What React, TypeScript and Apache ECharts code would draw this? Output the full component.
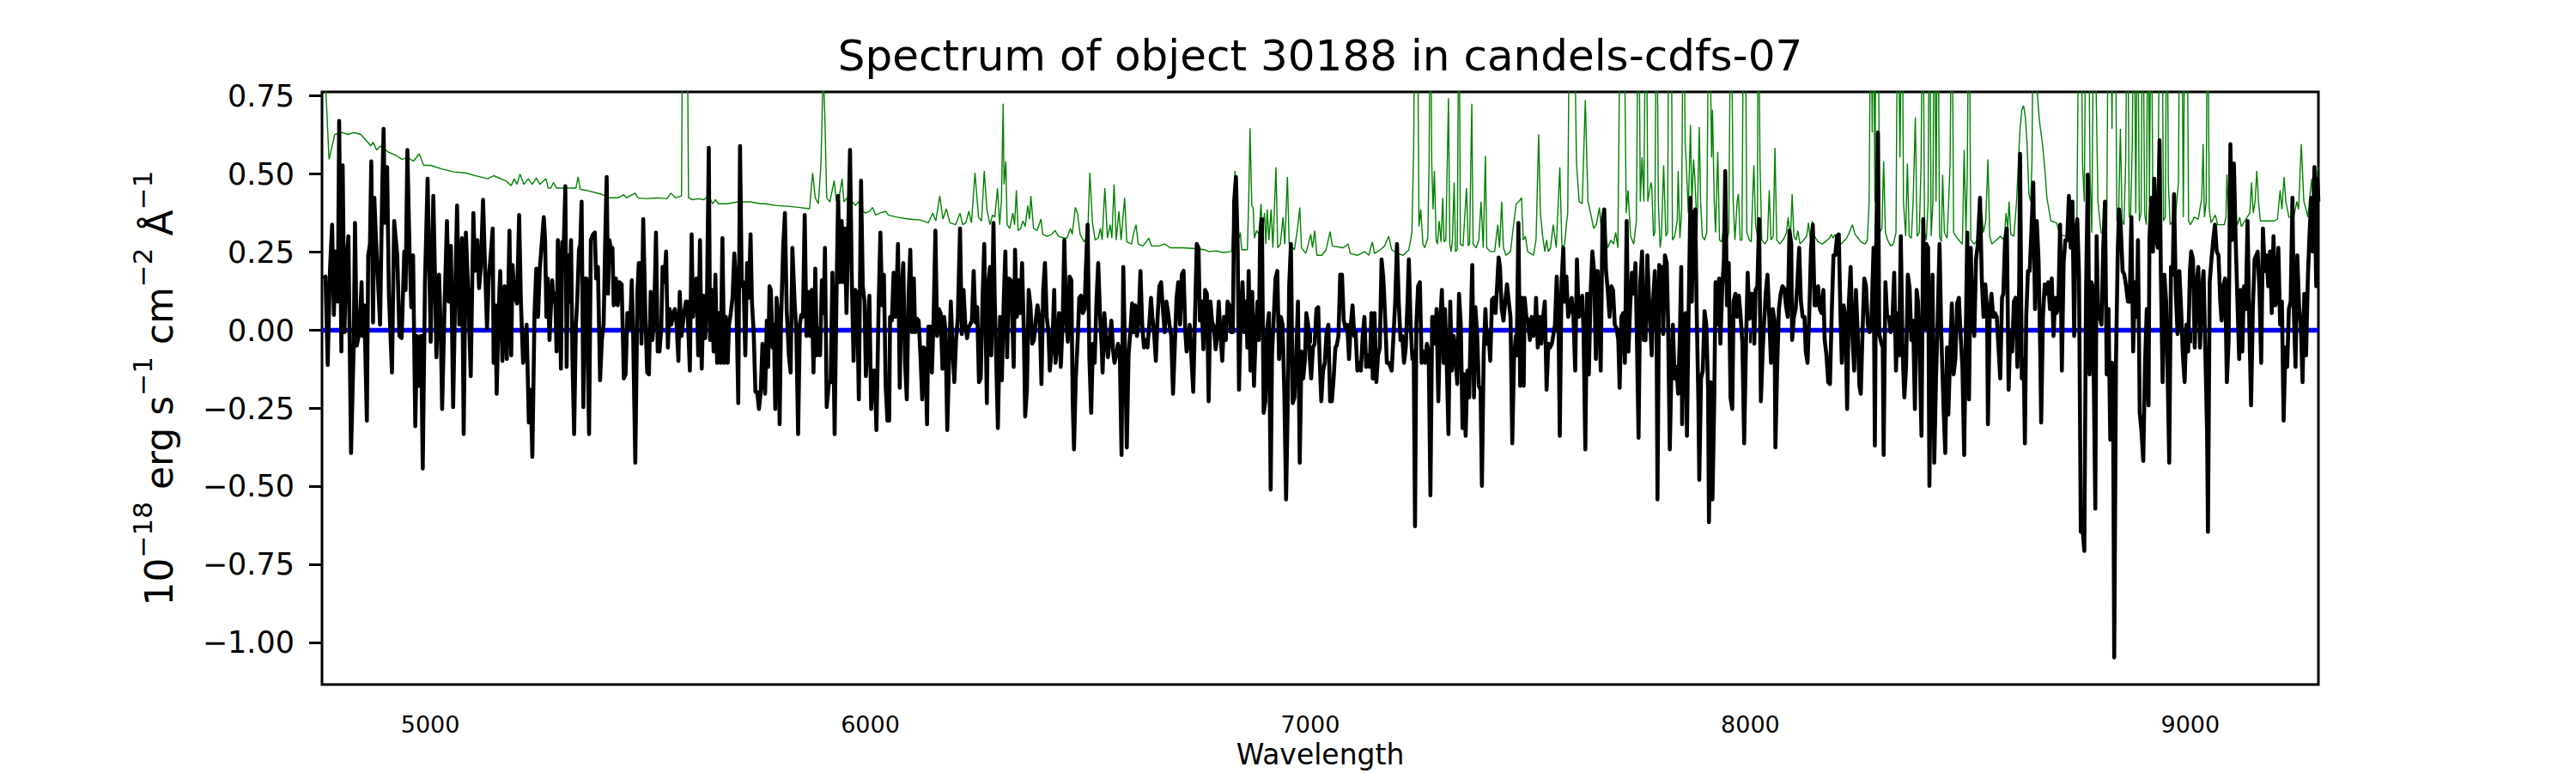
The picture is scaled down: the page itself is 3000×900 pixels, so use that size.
import React, { useEffect, useRef } from "react";
import * as echarts from "echarts";

const TITLE = "Spectrum of object 30188 in candels-cdfs-07";
const X_NAME = "Wavelength";
const Y_NAME = "{b|10}{s|−18}{b| erg s}{s|−1}{b| cm}{s|−2}{b| Å}{s|−1}";
const X_TICKS = [5000, 6000, 7000, 8000, 9000];
const Y_TICKS = [-1.0, -0.75, -0.5, -0.25, 0, 0.25, 0.5, 0.75];
const X_MIN = 4754;
const X_MAX = 9291;
const Y_MIN = -1.134;
const Y_MAX = 0.763;
const ZERO_LEVEL = 0;

// observed flux (black), [wavelength, flux]
const fluxA = [[4757,0.166],[4762,0.172],[4767,-0.111],[4772,0.190],[4777,0.338],[4781,0.049],[4785,0.252],[4790,0.092],[4793,0.670],[4798,-0.068],[4801,0.528],[4805,-0.006],[4809,0.203],[4814,0.301],[4820,-0.393],[4826,-0.055],[4829,0.344],[4833,-0.049],[4839,-0.006],[4844,0.154],[4846,-0.018],[4850,0.080],[4856,-0.289],[4859,0.240],[4863,0.276],[4866,0.541],[4870,0.025],[4873,0.424],[4876,0.313],[4881,0.166],[4886,0.018],[4891,0.461],[4894,0.645],[4897,0.344],[4902,0.522],[4906,0.117],[4913,-0.135],[4918,0.350],[4925,0.240],[4930,-0.018],[4935,-0.025],[4941,0.252],[4944,0.129],[4948,0.577],[4953,0.252],[4957,0.074],[4961,0.240],[4966,-0.307],[4970,-0.018],[4975,-0.178],[4979,-0.018],[4983,-0.442],[4988,0.154],[4994,0.485],[4998,0.184],[5001,-0.037],[5007,0.430],[5011,0.160],[5014,-0.086],[5020,0.178],[5024,-0.006],[5027,-0.252],[5033,0.104],[5038,0.350],[5042,0.092],[5047,0.270],[5052,-0.246],[5057,0.141],[5061,0.399],[5066,0.018],[5072,0.295],[5076,-0.332],[5081,0.313],[5086,0.135],[5092,-0.147],[5098,0.375],[5102,0.190],[5107,0.289],[5111,0.135],[5115,0.203],[5120,0.418],[5124,0.227],[5129,0.006],[5133,0.166],[5138,0.252],[5142,0.326],[5144,-0.104],[5148,0.080],[5151,-0.203],[5155,0.043],[5159,0.190],[5164,-0.098],[5169,0.141],[5174,-0.092],[5177,0.092],[5180,0.319],[5184,-0.080],[5187,0.209],[5191,0.117],[5197,0.086],[5202,0.369],[5206,0.092],[5211,-0.104],[5216,-0.055],[5219,0.018],[5224,-0.295],[5228,-0.190],[5232,-0.405],[5237,0.055],[5241,0.197],[5245,0.043],[5249,0.197]];
const fluxB = [[5258,0.362],[5261,0.289],[5264,0.043],[5267,0.166],[5271,-0.031],[5274,0.068],[5277,0.160],[5280,0.092],[5284,0.117],[5287,-0.068],[5290,0.289],[5294,0.141],[5297,-0.123],[5300,0.283],[5303,0.252],[5307,0.461],[5310,-0.117],[5313,0.240],[5316,0.092],[5320,0.289],[5323,-0.080],[5327,-0.332],[5331,0.018],[5334,0.092],[5338,0.258],[5341,0.276],[5344,0.412],[5348,-0.246],[5351,0.166],[5355,0.166],[5361,-0.332],[5365,0.289],[5370,0.307],[5374,0.313],[5377,0.166],[5381,0.203],[5386,-0.160],[5390,-0.031],[5394,0.018],[5398,0.313],[5401,0.491],[5404,0.117],[5407,0.289],[5411,0.258],[5414,0.264],[5417,0.080],[5422,0.166],[5426,0.080],[5430,0.154],[5435,0.147],[5440,-0.154],[5444,-0.141],[5448,0.055],[5451,0.055],[5454,0.006],[5458,0.160],[5461,-0.006],[5466,-0.424],[5471,0.129],[5474,0.215],[5478,0.215],[5480,-0.043],[5484,0.356],[5489,0.043],[5493,-0.135],[5497,-0.141],[5501,0.123],[5505,-0.031],[5509,0.055],[5513,0.313],[5517,-0.068],[5521,-0.068],[5525,0.006],[5528,0.203],[5532,0.154],[5536,0.252],[5540,-0.055],[5544,0.068],[5548,0.018],[5552,0.055],[5556,0.068],[5560,0.018],[5564,-0.098],[5567,0.123],[5571,-0.018],[5577,0.055],[5581,0.092],[5584,0.092],[5590,-0.129],[5594,0.307],[5597,0.043],[5601,0.129],[5605,0.166],[5609,-0.080],[5613,0.289],[5617,-0.123],[5621,0.111],[5625,-0.025],[5629,0.111],[5633,0.584],[5636,-0.031],[5640,0.129],[5644,-0.068],[5648,0.178],[5652,-0.104],[5656,0.055],[5660,-0.104],[5664,0.295],[5668,-0.104],[5672,0.043],[5676,-0.104],[5679,0.018],[5683,0.055],[5687,0.104],[5691,0.246],[5695,0.154],[5700,-0.233],[5704,0.590],[5708,0.141],[5712,0.154],[5716,-0.080],[5720,0.215],[5724,0.104],[5728,0.307],[5731,0.092],[5735,-0.006],[5739,-0.197],[5743,-0.197],[5747,-0.252],[5751,-0.197],[5755,-0.043]];
const fluxC = [[5761,-0.203],[5765,0.031],[5768,-0.117],[5771,0.141],[5774,0.129],[5778,-0.055],[5781,0.018],[5784,-0.252],[5787,0.104],[5791,0.043],[5794,-0.301],[5797,0.018],[5802,0.264],[5806,0.375],[5810,0.068],[5815,-0.080],[5819,-0.135],[5823,0.264],[5828,0.092],[5832,-0.006],[5836,-0.332],[5840,0.018],[5843,0.049],[5847,0.043],[5851,0.369],[5855,-0.018],[5859,0.123],[5863,-0.018],[5867,0.129],[5871,-0.135],[5875,0.197],[5879,-0.080],[5882,0.006],[5886,-0.080],[5890,0.160],[5894,0.055],[5897,0.264],[5901,-0.246],[5906,-0.166],[5910,-0.166],[5914,0.184],[5919,-0.332],[5923,0.092],[5927,0.430],[5931,0.154],[5935,0.350],[5938,0.154],[5942,0.326],[5946,0.055],[5950,0.326],[5954,0.577],[5958,0.166],[5962,-0.098],[5966,0.129],[5970,0.117],[5974,-0.221],[5979,0.479],[5983,0.141],[5987,0.092],[5990,-0.147],[5994,-0.031],[5998,0.111],[6002,-0.252],[6006,-0.129],[6010,-0.129],[6014,-0.319],[6019,0.080],[6023,0.313],[6027,0.080],[6031,0.178],[6035,-0.178],[6039,-0.289],[6043,-0.289],[6045,0.043],[6049,0.031],[6053,0.184],[6057,0.043],[6061,0.184],[6063,0.276],[6067,-0.184],[6071,0.129],[6075,0.215],[6079,-0.104],[6083,-0.221],[6087,0.111],[6091,0.258],[6095,-0.006],[6099,0.166],[6102,-0.006],[6106,0.037],[6110,0.031],[6114,-0.080],[6118,-0.221],[6121,-0.055],[6125,-0.061],[6129,-0.301],[6132,0.012],[6136,0.012],[6140,-0.135],[6144,0.043],[6148,0.319],[6152,-0.018],[6156,0.068],[6160,0.055],[6164,-0.123],[6168,0.043],[6171,-0.006],[6175,-0.319],[6179,-0.104],[6183,0.092],[6187,-0.055],[6191,-0.166],[6195,-0.031],[6199,0.043],[6204,0.326],[6208,-0.012],[6212,0.129],[6216,0.018],[6220,-0.025],[6224,0.012],[6227,0.018],[6231,0.031],[6235,0.190],[6239,0.025],[6243,0.074],[6247,-0.166],[6251,-0.154],[6255,0.092],[6259,0.276]];
const fluxD = [[6265,-0.233],[6268,0.141],[6272,0.203],[6275,-0.080],[6280,0.344],[6283,0.092],[6286,-0.080],[6290,-0.313],[6295,0.043],[6299,-0.160],[6303,0.080],[6307,0.252],[6311,-0.086],[6315,0.166],[6319,0.160],[6322,0.068],[6326,-0.117],[6329,0.258],[6333,0.043],[6337,0.160],[6341,0.055],[6345,0.215],[6349,-0.006],[6352,-0.276],[6356,-0.190],[6360,0.129],[6364,0.080],[6368,-0.043],[6372,-0.031],[6376,0.031],[6380,0.080],[6384,0.043],[6386,-0.006],[6389,-0.172],[6393,0.129],[6397,0.215],[6401,0.043],[6405,-0.006],[6408,-0.129],[6414,-0.031],[6418,0.129],[6421,-0.104],[6425,-0.043],[6429,0.055],[6433,-0.117],[6437,0.018],[6441,0.289],[6445,0.043],[6449,-0.037],[6453,0.172],[6457,0.160],[6460,-0.227],[6463,-0.381],[6467,-0.154],[6471,-0.043],[6475,0.104],[6479,0.111],[6483,0.055],[6487,0.068],[6490,0.197],[6494,0.338],[6498,-0.092],[6502,-0.264],[6506,-0.043],[6510,-0.104],[6514,0.092],[6518,0.215],[6522,0.055],[6526,-0.055],[6528,-0.135],[6532,0.055],[6536,-0.031],[6540,-0.086],[6544,-0.031],[6548,0.031],[6552,-0.068],[6555,-0.104],[6559,-0.080],[6563,-0.043],[6567,-0.068],[6571,-0.399],[6575,0.203],[6579,-0.068],[6583,-0.375],[6587,-0.080],[6591,-0.006],[6595,0.086],[6598,-0.006],[6602,0.080],[6606,-0.018],[6610,0.031],[6614,0.190],[6618,0.018],[6622,-0.055],[6626,-0.031],[6630,-0.055],[6634,0.018],[6638,0.104],[6641,0.043],[6645,-0.006],[6649,-0.098],[6653,0.043],[6657,0.141],[6661,0.154],[6665,0.068],[6669,-0.006],[6673,0.092],[6677,0.055],[6680,0.018],[6684,-0.018],[6688,-0.203],[6692,-0.055],[6696,0.104],[6700,0.154],[6704,0.018],[6708,0.178],[6712,0.190],[6716,-0.006],[6719,-0.068],[6723,-0.031],[6726,0.018],[6730,-0.092],[6734,-0.197],[6738,0.043],[6742,0.276],[6746,0.264],[6749,0.031],[6753,0.092],[6757,-0.061],[6761,0.129],[6765,0.117]];
const fluxE = [[6769,-0.227],[6773,0.092],[6777,0.025],[6781,0.012],[6785,-0.061],[6788,-0.018],[6792,0.092],[6796,-0.018],[6800,-0.098],[6804,0.043],[6808,-0.031],[6812,0.092],[6816,0.080],[6820,-0.006],[6824,-0.006],[6827,0.412],[6831,0.491],[6835,0.264],[6838,-0.190],[6842,0.043],[6846,0.154],[6850,-0.006],[6854,0.092],[6857,-0.055],[6860,0.190],[6864,-0.129],[6868,0.123],[6872,-0.178],[6876,-0.006],[6880,0.092],[6883,-0.031],[6886,0.301],[6890,0.356],[6894,-0.264],[6898,-0.227],[6902,0.006],[6906,0.055],[6910,-0.510],[6913,-0.080],[6917,0.043],[6921,0.166],[6925,0.190],[6929,-0.092],[6933,0.043],[6937,0.018],[6941,-0.203],[6945,-0.541],[6949,-0.215],[6952,0.141],[6956,0.276],[6960,-0.233],[6964,-0.215],[6968,-0.080],[6972,0.092],[6976,-0.424],[6980,-0.068],[6984,-0.154],[6988,-0.092],[6991,0.055],[6995,0.018],[6999,-0.092],[7002,-0.154],[7006,-0.055],[7010,-0.043],[7014,0.068],[7018,0.074],[7021,-0.080],[7025,-0.227],[7029,-0.129],[7033,-0.104],[7037,-0.006],[7041,0.018],[7045,-0.227],[7049,-0.227],[7053,-0.154],[7057,-0.055],[7060,-0.049],[7064,-0.018],[7068,0.178],[7072,0.178],[7076,0.031],[7080,0.006],[7084,0.018],[7088,-0.092],[7092,0.018],[7096,0.080],[7100,-0.018],[7103,-0.006],[7107,-0.129],[7111,-0.104],[7115,-0.129],[7119,-0.018],[7123,0.043],[7127,-0.117],[7131,-0.080],[7135,-0.117],[7139,0.055],[7142,-0.154],[7146,0.055],[7150,-0.166],[7154,-0.080],[7158,-0.055],[7162,0.227],[7166,0.166],[7170,0.043],[7174,-0.104],[7178,-0.104],[7182,-0.117],[7185,-0.129],[7189,-0.018],[7193,0.092],[7197,0.276],[7201,0.092],[7205,-0.031],[7209,-0.018],[7213,-0.104],[7217,-0.055],[7221,0.092],[7224,0.227],[7228,0.018],[7232,-0.092],[7235,-0.068],[7238,-0.627],[7241,0.018],[7245,0.141],[7249,0.154],[7253,-0.104],[7257,-0.068],[7261,-0.104],[7265,-0.043],[7269,-0.068]];
const fluxF = [[7273,-0.528],[7277,0.043],[7280,0.043],[7284,-0.043],[7287,0.068],[7291,-0.227],[7295,0.018],[7299,0.129],[7303,-0.104],[7306,0.068],[7310,-0.104],[7314,-0.332],[7318,0.092],[7322,-0.129],[7326,-0.018],[7330,-0.080],[7334,-0.172],[7338,0.117],[7342,0.018],[7346,-0.313],[7349,-0.141],[7353,-0.338],[7357,-0.129],[7361,-0.215],[7364,-0.031],[7368,0.209],[7372,-0.215],[7375,0.074],[7379,-0.006],[7383,-0.178],[7387,-0.190],[7390,-0.498],[7394,-0.080],[7398,0.068],[7401,-0.043],[7405,-0.006],[7409,-0.098],[7413,0.098],[7417,0.104],[7421,0.055],[7425,0.154],[7428,0.233],[7431,0.203],[7435,0.068],[7439,0.031],[7443,0.092],[7447,0.147],[7451,0.092],[7455,0.043],[7459,-0.362],[7463,-0.092],[7467,-0.018],[7469,-0.080],[7473,0.344],[7477,-0.178],[7481,0.104],[7485,-0.178],[7487,0.104],[7491,0.043],[7495,0.031],[7499,-0.031],[7503,0.043],[7507,-0.018],[7511,0.018],[7513,0.104],[7517,-0.055],[7521,0.043],[7525,-0.043],[7529,0.043],[7533,0.092],[7537,-0.190],[7541,-0.043],[7545,-0.055],[7549,-0.043],[7552,-0.018],[7556,0.018],[7560,0.172],[7564,0.031],[7567,-0.338],[7571,0.154],[7575,0.264],[7578,0.092],[7582,0.172],[7586,0.043],[7590,0.068],[7594,0.104],[7598,0.043],[7602,-0.129],[7606,0.227],[7610,0.043],[7614,0.055],[7618,0.111],[7621,-0.006],[7625,-0.381],[7629,0.117],[7633,-0.141],[7637,0.117],[7641,0.252],[7645,0.190],[7649,-0.092],[7653,0.190],[7657,0.043],[7660,-0.129],[7664,0.350],[7668,0.387],[7672,0.190],[7676,0.129],[7680,0.043],[7684,0.141],[7688,0.129],[7692,0.018],[7696,0.006],[7700,-0.031],[7703,-0.184],[7707,0.043],[7711,0.055],[7715,-0.104],[7719,0.350],[7723,-0.068],[7727,0.080],[7731,0.184],[7735,0.117],[7739,0.215],[7742,-0.006],[7746,-0.344],[7750,0.154],[7754,0.252],[7758,-0.031],[7762,-0.031],[7766,0.240],[7770,0.092]];
const fluxG = [[7776,-0.080],[7779,0.092],[7783,0.190],[7787,-0.006],[7789,-0.541],[7793,0.209],[7797,0.141],[7800,0.203],[7802,-0.012],[7806,0.240],[7810,0.215],[7813,0.031],[7817,-0.381],[7821,-0.104],[7824,0.018],[7828,-0.154],[7832,-0.117],[7836,-0.203],[7840,-0.006],[7843,0.203],[7845,-0.301],[7849,0.043],[7853,0.055],[7856,-0.338],[7860,0.080],[7864,0.424],[7867,0.092],[7871,0.375],[7875,0.387],[7878,0.068],[7882,-0.227],[7884,-0.479],[7888,-0.154],[7892,-0.129],[7896,0.061],[7900,0.018],[7904,-0.190],[7906,-0.614],[7910,-0.166],[7914,-0.541],[7918,-0.227],[7921,0.154],[7925,0.018],[7929,0.166],[7932,-0.043],[7936,0.129],[7940,0.227],[7943,0.510],[7947,0.080],[7951,0.215],[7955,-0.215],[7959,-0.252],[7962,0.092],[7966,0.117],[7970,0.043],[7974,0.111],[7978,0.043],[7982,-0.043],[7986,-0.362],[7990,-0.055],[7994,0.184],[7998,0.037],[8002,0.117],[8005,0.117],[8009,-0.043],[8012,0.129],[8016,0.141],[8020,0.356],[8024,-0.227],[8028,-0.068],[8031,0.018],[8035,0.117],[8039,0.178],[8043,0.043],[8047,-0.104],[8051,0.068],[8055,0.031],[8057,-0.375],[8061,-0.117],[8065,0.068],[8069,0.117],[8073,0.141],[8077,0.135],[8081,0.080],[8085,0.043],[8089,0.319],[8093,0.276],[8095,-0.031],[8099,0.043],[8103,0.068],[8107,0.154],[8111,0.264],[8115,0.092],[8119,0.043],[8123,0.043],[8126,-0.068],[8130,-0.104],[8134,0.055],[8138,0.264],[8142,0.338],[8146,0.080],[8150,0.080],[8154,0.141],[8158,0.068],[8162,0.055],[8166,0.129],[8169,-0.031],[8173,-0.080],[8177,-0.166],[8181,-0.172],[8185,0.055],[8189,0.240],[8193,0.240],[8197,0.301],[8201,0.307],[8205,0.043],[8208,-0.104],[8212,0.080],[8216,0.043],[8220,-0.252],[8224,0.092],[8228,0.203],[8232,-0.018],[8236,-0.129],[8240,0.129],[8244,-0.006],[8248,-0.178],[8251,-0.203],[8255,-0.006],[8259,0.166],[8263,0.141],[8267,0.018],[8271,-0.006],[8275,0.018]];
const fluxH = [[8280,0.264],[8283,-0.369],[8286,0.264],[8290,0.633],[8293,-0.012],[8297,-0.037],[8301,-0.055],[8303,-0.399],[8307,0.154],[8311,0.043],[8315,0.043],[8319,-0.006],[8323,0.037],[8327,0.184],[8331,-0.129],[8335,0.055],[8338,-0.080],[8342,0.301],[8346,-0.068],[8350,-0.215],[8354,-0.117],[8358,0.178],[8362,0.135],[8366,-0.031],[8370,0.031],[8374,-0.252],[8378,0.129],[8381,0.092],[8385,-0.080],[8389,-0.338],[8393,0.356],[8397,0.006],[8400,0.276],[8404,0.264],[8407,-0.498],[8410,-0.117],[8414,0.178],[8418,-0.424],[8422,-0.154],[8426,0.043],[8430,0.276],[8434,-0.018],[8439,-0.240],[8443,-0.393],[8447,-0.055],[8450,-0.270],[8454,-0.080],[8458,0.086],[8462,-0.141],[8466,-0.092],[8470,0.086],[8474,0.104],[8478,-0.018],[8482,-0.117],[8486,-0.399],[8489,-0.080],[8493,0.313],[8497,-0.221],[8501,0.264],[8505,0.025],[8509,-0.018],[8513,0.227],[8517,0.276],[8522,0.424],[8526,0.166],[8530,0.043],[8534,0.147],[8538,0.068],[8540,-0.301],[8544,0.043],[8548,0.117],[8552,0.043],[8556,0.055],[8560,0.043],[8564,-0.055],[8568,-0.154],[8572,0.104],[8575,0.117],[8579,0.289],[8583,0.326],[8587,-0.190],[8591,-0.006],[8595,-0.068],[8599,0.092],[8603,0.104],[8607,-0.117],[8611,0.141],[8613,0.565],[8617,-0.154],[8621,-0.092],[8624,-0.362],[8627,0.043],[8631,0.190],[8635,0.190],[8639,0.326],[8643,0.473],[8647,0.068],[8651,0.350],[8655,0.227],[8659,-0.080],[8661,-0.295],[8665,0.043],[8669,0.147],[8673,0.117],[8677,0.154],[8681,0.068],[8685,0.166],[8689,-0.018],[8693,0.104],[8696,0.055],[8700,0.080],[8704,0.338],[8708,-0.129],[8712,0.215],[8716,0.289],[8720,0.289],[8724,0.430],[8728,0.264],[8732,0.412],[8736,-0.018],[8739,0.289],[8743,0.356],[8747,0.178],[8751,-0.645],[8755,-0.633],[8759,-0.706],[8763,0.129],[8767,0.498],[8771,-0.141],[8775,0.154],[8778,0.141]];
const fluxI = [[8784,-0.571],[8787,0.301],[8790,0.068],[8794,0.043],[8798,0.018],[8802,0.264],[8806,0.412],[8810,-0.141],[8814,0.068],[8818,-0.350],[8822,-0.104],[8824,-0.117],[8827,-1.047],[8831,-0.104],[8835,0.252],[8838,0.387],[8842,0.326],[8846,0.190],[8850,0.178],[8854,0.141],[8858,0.092],[8862,0.092],[8866,0.362],[8870,-0.068],[8874,0.154],[8878,0.043],[8881,0.289],[8885,-0.264],[8889,-0.326],[8893,-0.418],[8897,-0.104],[8901,0.068],[8905,-0.240],[8907,0.289],[8911,0.424],[8915,0.252],[8918,0.485],[8922,0.301],[8926,0.264],[8930,0.608],[8933,0.178],[8937,-0.166],[8941,0.178],[8945,0.092],[8949,-0.190],[8952,-0.424],[8956,0.203],[8960,0.178],[8963,0.436],[8967,0.117],[8971,-0.012],[8975,0.190],[8979,0.068],[8983,-0.080],[8987,-0.166],[8991,0.018],[8995,-0.068],[8999,0.190],[9002,0.252],[9006,0.227],[9010,-0.055],[9014,0.141],[9018,0.203],[9022,-0.055],[9026,0.129],[9030,0.190],[9034,-0.068],[9038,-0.326],[9040,-0.645],[9044,0.154],[9048,0.227],[9052,0.289],[9056,0.338],[9060,0.252],[9064,0.240],[9068,0.092],[9071,0.031],[9075,0.141],[9079,0.166],[9083,-0.166],[9087,-0.031],[9091,0.596],[9095,0.289],[9099,0.534],[9103,0.289],[9107,0.092],[9111,-0.092],[9114,0.129],[9118,-0.068],[9122,0.141],[9126,0.068],[9130,0.350],[9134,0.018],[9138,-0.240],[9142,0.068],[9146,0.227],[9150,0.240],[9153,0.252],[9157,0.129],[9161,-0.104],[9165,0.326],[9169,0.190],[9173,0.240],[9177,0.141],[9181,0.252],[9185,0.055],[9189,0.301],[9193,0.080],[9196,0.092],[9200,0.264],[9204,0.018],[9208,0.092],[9212,-0.289],[9216,-0.055],[9220,-0.117],[9224,0.068],[9228,0.092],[9232,0.424],[9235,0.068],[9239,-0.117],[9243,0.240],[9247,0.080],[9251,0.018],[9255,-0.166],[9259,0.117],[9263,-0.080],[9267,0.166],[9271,0.313],[9275,0.424],[9278,0.252],[9282,0.522],[9286,0.141],[9289,0.485],[9291,0.412]];

// noise / sky spectrum (green), [wavelength, value]
const skyA = [[4754,1.3],[4763,0.76],[4770,0.547],[4775,0.577],[4783,0.627],[4800,0.633],[4813,0.627],[4826,0.633],[4842,0.627],[4858,0.602],[4865,0.590],[4870,0.602],[4878,0.577],[4887,0.590],[4904,0.571],[4923,0.559],[4936,0.547],[4949,0.553],[4962,0.541],[4975,0.565],[4985,0.528],[5001,0.528],[5027,0.516],[5053,0.507],[5079,0.504],[5105,0.494],[5131,0.485],[5144,0.495],[5171,0.479],[5184,0.463],[5191,0.485],[5197,0.467],[5204,0.500],[5213,0.467],[5223,0.485],[5232,0.467],[5241,0.488],[5249,0.467]];
const skyB = [[5258,0.479],[5263,0.485],[5268,0.455],[5274,0.455],[5280,0.473],[5287,0.455],[5310,0.455],[5331,0.455],[5336,0.491],[5341,0.451],[5355,0.448],[5388,0.436],[5407,0.424],[5427,0.424],[5440,0.434],[5446,0.424],[5466,0.439],[5472,0.424],[5492,0.421],[5518,0.424],[5538,0.421],[5547,0.439],[5557,0.424],[5571,0.430],[5574,1.2],[5583,1.2],[5587,0.424],[5596,0.418],[5609,0.421],[5622,0.418],[5632,0.430],[5642,0.405],[5648,0.418],[5655,0.405],[5674,0.405],[5700,0.411],[5726,0.411],[5752,0.405]];
const skyC = [[5761,0.405],[5787,0.399],[5813,0.397],[5840,0.393],[5862,0.389],[5869,0.504],[5875,0.424],[5882,0.405],[5888,0.534],[5892,0.78],[5895,0.76],[5897,0.670],[5901,0.424],[5908,0.411],[5918,0.479],[5923,0.411],[5929,0.424],[5936,0.485],[5940,0.411],[5947,0.424],[5953,0.387],[5960,0.411],[5966,0.399],[5973,0.411],[5979,0.387],[5989,0.375],[5999,0.381],[6005,0.393],[6012,0.369],[6022,0.375],[6035,0.381],[6041,0.369],[6061,0.362],[6087,0.356],[6113,0.353],[6132,0.344],[6142,0.375],[6149,0.350],[6158,0.430],[6165,0.356],[6173,0.389],[6181,0.344],[6194,0.338],[6204,0.375],[6210,0.338],[6217,0.344],[6224,0.381],[6230,0.344],[6238,0.504],[6246,0.362],[6253,0.350],[6259,0.510]];
const skyD = [[6265,0.387],[6272,0.338],[6278,0.369],[6283,0.362],[6289,0.455],[6294,0.338],[6298,0.412],[6302,0.725],[6304,0.467],[6308,0.541],[6311,0.338],[6317,0.326],[6324,0.375],[6328,0.338],[6332,0.448],[6336,0.319],[6342,0.326],[6347,0.350],[6352,0.332],[6358,0.399],[6362,0.356],[6365,0.430],[6371,0.326],[6379,0.319],[6388,0.356],[6392,0.307],[6402,0.301],[6412,0.307],[6420,0.319],[6428,0.301],[6440,0.295],[6447,0.295],[6455,0.326],[6459,0.307],[6466,0.393],[6471,0.375],[6477,0.307],[6486,0.283],[6494,0.301],[6499,0.504],[6505,0.344],[6511,0.289],[6518,0.295],[6523,0.326],[6527,0.289],[6533,0.455],[6539,0.295],[6545,0.338],[6549,0.295],[6554,0.467],[6559,0.289],[6565,0.381],[6570,0.289],[6578,0.424],[6583,0.283],[6594,0.276],[6598,0.307],[6604,0.338],[6609,0.276],[6620,0.270],[6633,0.295],[6639,0.270],[6656,0.270],[6669,0.276],[6682,0.264],[6708,0.264],[6734,0.262],[6760,0.258]];
const skyE = [[6769,0.252],[6788,0.254],[6801,0.249],[6821,0.252],[6826,0.375],[6829,0.510],[6834,0.313],[6838,0.295],[6841,0.313],[6844,0.258],[6857,0.258],[6860,0.412],[6863,0.647],[6867,0.399],[6870,0.393],[6873,0.295],[6878,0.319],[6883,0.307],[6888,0.405],[6891,0.313],[6896,0.375],[6899,0.276],[6902,0.387],[6906,0.289],[6911,0.387],[6915,0.264],[6922,0.522],[6926,0.264],[6932,0.276],[6938,0.362],[6942,0.276],[6948,0.491],[6952,0.276],[6964,0.258],[6971,0.326],[6976,0.393],[6980,0.264],[6990,0.246],[7001,0.307],[7005,0.264],[7010,0.319],[7015,0.240],[7026,0.240],[7036,0.258],[7045,0.316],[7050,0.270],[7075,0.264],[7086,0.276],[7091,0.246],[7107,0.240],[7124,0.252],[7133,0.240],[7141,0.283],[7146,0.246],[7159,0.258],[7169,0.270],[7178,0.301],[7185,0.258],[7198,0.246],[7211,0.240],[7224,0.258],[7231,0.313],[7235,0.596],[7238,1.2],[7243,1.2],[7247,0.332],[7251,0.387],[7256,0.276],[7260,0.264],[7267,0.295],[7270,0.534],[7273,1.2]];
const skyF = [[7276,0.534],[7279,0.387],[7282,0.510],[7286,0.289],[7289,0.276],[7293,0.350],[7297,0.283],[7301,0.424],[7304,0.283],[7308,0.289],[7314,0.743],[7317,0.276],[7320,0.252],[7323,0.289],[7327,0.473],[7330,0.252],[7334,0.258],[7338,1.2],[7341,0.276],[7347,0.270],[7355,0.455],[7359,0.270],[7362,0.276],[7367,0.725],[7370,0.276],[7377,0.264],[7383,0.289],[7388,0.412],[7393,0.264],[7398,0.559],[7401,0.264],[7409,0.252],[7419,0.252],[7426,0.338],[7430,0.264],[7435,0.412],[7439,0.264],[7445,0.240],[7455,0.252],[7461,0.326],[7468,0.405],[7474,0.412],[7480,0.424],[7484,0.289],[7489,0.301],[7494,0.252],[7507,0.240],[7513,0.289],[7519,0.627],[7523,0.375],[7528,0.301],[7533,0.252],[7537,0.289],[7541,0.252],[7546,0.264],[7552,0.338],[7559,0.264],[7567,0.522],[7572,0.264],[7578,0.276],[7582,0.338],[7585,0.375],[7590,1.2],[7598,1.2],[7605,0.534],[7611,0.412],[7618,0.405],[7625,0.737],[7631,0.412],[7637,0.375],[7644,0.326],[7650,0.338],[7657,0.393],[7663,0.301],[7670,0.313],[7676,0.264],[7683,0.289],[7689,0.276],[7694,0.313],[7699,0.264],[7705,1.2],[7712,1.2],[7718,0.375],[7722,0.448],[7725,0.375],[7728,0.301],[7735,0.276],[7741,0.350],[7746,1.2],[7750,0.412],[7754,0.553],[7758,0.412],[7763,1.2],[7767,0.412],[7774,0.473]];
const skyG = [[7776,0.461],[7780,0.301],[7783,0.313],[7787,1.2],[7791,0.412],[7795,0.264],[7798,0.301],[7803,0.528],[7808,0.301],[7812,0.313],[7815,1.2],[7820,1.2],[7823,0.289],[7828,0.301],[7834,0.350],[7836,0.510],[7840,0.295],[7844,0.387],[7848,1.2],[7852,0.596],[7854,0.547],[7859,0.375],[7864,0.657],[7867,0.399],[7871,0.547],[7874,0.485],[7879,0.313],[7884,0.651],[7887,0.412],[7891,0.301],[7896,0.289],[7901,0.313],[7906,1.2],[7912,0.553],[7914,0.706],[7918,0.412],[7921,0.313],[7926,0.571],[7930,0.289],[7935,0.283],[7939,0.326],[7943,0.412],[7947,0.289],[7951,0.313],[7956,1.2],[7961,0.412],[7965,0.289],[7970,0.412],[7973,0.436],[7977,0.289],[7981,0.289],[7985,1.2],[7988,1.2],[7992,0.313],[7998,0.289],[8002,0.283],[8005,0.412],[8008,0.528],[8012,0.338],[8016,0.301],[8018,1.2],[8022,0.534],[8026,0.289],[8033,0.276],[8039,0.289],[8043,0.448],[8047,0.289],[8052,0.301],[8056,0.584],[8060,0.289],[8067,0.276],[8077,0.295],[8082,0.313],[8086,0.362],[8091,0.289],[8095,0.436],[8099,0.301],[8104,0.289],[8108,0.319],[8113,0.276],[8121,0.289],[8128,0.301],[8132,0.344],[8136,0.295],[8141,0.350],[8146,0.301],[8154,0.283],[8164,0.276],[8170,0.283],[8180,0.295],[8184,0.307],[8188,0.295],[8193,0.307],[8198,0.289],[8206,0.276],[8219,0.295],[8225,0.313],[8232,0.338],[8238,0.307],[8245,0.295],[8251,0.283],[8261,0.276],[8266,0.289],[8270,0.412],[8274,1.2],[8277,0.633]];
const skyH = [[8280,1.2],[8283,0.412],[8286,1.2],[8290,1.2],[8294,0.313],[8299,0.326],[8303,0.541],[8307,0.313],[8312,0.289],[8319,0.270],[8325,0.276],[8331,0.313],[8335,1.2],[8340,0.553],[8345,1.2],[8348,0.412],[8353,0.301],[8357,0.534],[8361,0.301],[8366,0.295],[8370,0.412],[8375,0.682],[8379,0.301],[8384,0.313],[8388,0.534],[8392,1.2],[8396,0.313],[8400,0.289],[8404,0.412],[8407,1.2],[8411,0.301],[8415,0.412],[8418,1.2],[8422,0.412],[8426,1.2],[8430,0.301],[8434,0.283],[8437,0.498],[8441,0.313],[8447,0.295],[8450,0.387],[8454,0.534],[8458,1.2],[8462,0.313],[8470,0.295],[8482,0.276],[8486,0.577],[8490,0.313],[8493,0.498],[8497,1.2],[8501,0.289],[8508,0.276],[8521,0.295],[8526,0.375],[8530,0.313],[8535,0.350],[8540,0.547],[8544,0.301],[8549,0.276],[8564,0.295],[8568,0.301],[8577,0.289],[8581,0.375],[8585,0.326],[8588,0.412],[8592,0.307],[8599,0.301],[8605,0.412],[8609,0.534],[8613,0.645],[8617,0.706],[8621,0.719],[8625,0.682],[8629,0.596],[8633,0.436],[8637,0.412],[8640,0.534],[8644,1.2],[8648,1.2],[8653,0.743],[8657,0.670],[8664,0.596],[8669,0.522],[8674,0.424],[8680,0.375],[8683,0.350],[8696,0.344],[8703,0.307],[8717,0.301],[8729,0.295],[8742,0.313],[8747,1.2],[8751,1.2],[8755,0.534],[8759,0.412],[8763,1.2],[8768,1.2],[8772,0.498],[8776,0.313],[8781,1.2]];
const skyI = [[8790,0.412],[8797,0.313],[8803,0.307],[8810,0.326],[8814,1.2],[8818,1.2],[8822,0.645],[8825,1.2],[8829,1.2],[8833,0.350],[8837,0.375],[8841,0.645],[8845,0.350],[8849,0.338],[8853,0.534],[8857,1.2],[8861,0.362],[8864,0.362],[8868,0.596],[8872,1.2],[8876,0.375],[8880,1.2],[8884,0.350],[8888,0.375],[8892,1.2],[8896,0.375],[8900,0.338],[8904,1.2],[8907,0.412],[8911,1.2],[8915,0.362],[8919,0.338],[8923,0.350],[8927,0.534],[8931,1.2],[8935,1.2],[8939,0.350],[8943,0.362],[8947,1.2],[8950,0.473],[8954,0.338],[8960,0.350],[8966,0.362],[8973,0.473],[8976,1.2],[8980,1.2],[8984,0.362],[8988,1.2],[8992,1.2],[8996,0.350],[9000,0.338],[9009,0.362],[9018,0.356],[9026,0.424],[9029,0.596],[9032,0.362],[9036,0.412],[9039,1.2],[9043,0.387],[9047,0.344],[9057,0.369],[9062,0.338],[9077,0.338],[9081,0.362],[9083,0.498],[9087,0.362],[9096,0.375],[9107,0.338],[9112,0.362],[9116,0.332],[9129,0.362],[9135,0.375],[9139,0.473],[9143,0.375],[9147,0.412],[9151,0.510],[9155,0.412],[9159,0.350],[9174,0.350],[9190,0.350],[9198,0.356],[9204,0.448],[9208,0.387],[9213,0.491],[9217,0.412],[9224,0.362],[9235,0.362],[9242,0.412],[9246,0.387],[9252,0.596],[9258,0.412],[9263,0.387],[9267,0.362],[9272,0.436],[9276,0.485],[9280,0.387],[9285,0.485],[9291,0.522]];

const FONT = "DejaVu Sans";

function fmtY(v: number): string {
  const s = Math.abs(v).toFixed(2);
  return v < -1e-9 ? "\u2212" + s : s;
}

export default function App() {
  const ref = useRef<HTMLDivElement>(null);
  useEffect(() => {
    if (!ref.current) return;
    const chart = echarts.init(ref.current, null, { renderer: "svg" });
    const flux = [...fluxA, ...fluxB, ...fluxC, ...fluxD, ...fluxE, ...fluxF, ...fluxG, ...fluxH, ...fluxI];
    const sky = [...skyA, ...skyB, ...skyC, ...skyD, ...skyE, ...skyF, ...skyG, ...skyH, ...skyI];
    const gridLeft = 375, gridTop = 107, gridW = 2325, gridH = 694;
    chart.setOption({
      animation: false,
      backgroundColor: "#ffffff",
      graphic: [
        {
          type: "text",
          x: gridLeft + gridW / 2,
          y: 65,
          style: {
            text: TITLE,
            fill: "#000",
            font: `50px "${FONT}"`,
            align: "center",
            verticalAlign: "middle",
          },
        },
      ],
      grid: {
        left: gridLeft,
        top: gridTop,
        width: gridW,
        height: gridH,
        show: true,
        borderColor: "#000",
        borderWidth: 3,
        backgroundColor: "transparent",
        containLabel: false,
      },
      xAxis: {
        type: "value",
        min: X_MIN,
        max: X_MAX,
        name: X_NAME,
        nameLocation: "middle",
        nameGap: 58,
        nameTextStyle: { fontFamily: FONT, fontSize: 33, color: "#000" },
        axisLine: { show: false },
        splitLine: { show: false },
        axisTick: {
          show: true,
          inside: false,
          length: 15,
          lineStyle: { color: "#000", width: 3 },
          customValues: X_TICKS,
        },
        axisLabel: {
          show: true,
          margin: 33,
          fontFamily: FONT,
          fontSize: 27,
          color: "#000",
          customValues: X_TICKS,
          formatter: (v: number) => String(Math.round(v)),
        },
      },
      yAxis: {
        type: "value",
        min: Y_MIN,
        max: Y_MAX,
        name: Y_NAME,
        nameLocation: "middle",
        nameRotate: 90,
        nameGap: 168,
        nameTextStyle: {
          fontFamily: FONT,
          color: "#000",
          fontSize: 44,
          rich: {
            b: { fontFamily: FONT, fontSize: 44, lineHeight: 44, color: "#000", verticalAlign: "bottom" },
            s: { fontFamily: FONT, fontSize: 31, lineHeight: 57, color: "#000", verticalAlign: "top", padding: [0, 0, 26, 0] },
          },
        },
        axisLine: { show: false },
        splitLine: { show: false },
        axisTick: {
          show: true,
          inside: false,
          length: 15,
          lineStyle: { color: "#000", width: 3 },
          customValues: Y_TICKS,
        },
        axisLabel: {
          show: true,
          margin: 32,
          fontFamily: FONT,
          fontSize: 35,
          color: "#000",
          customValues: Y_TICKS,
          formatter: (v: number) => fmtY(v),
        },
      },
      series: [
        {
          type: "line",
          name: "zero",
          data: [[X_MIN, ZERO_LEVEL], [X_MAX, ZERO_LEVEL]],
          showSymbol: false,
          symbol: "none",
          silent: true,
          z: 1,
          lineStyle: { color: "#0000ff", width: 5.5 },
        },
        {
          type: "line",
          name: "sky",
          data: sky,
          showSymbol: false,
          symbol: "none",
          silent: true,
          clip: true,
          z: 2,
          lineStyle: { color: "#008000", width: 1.4 },
        },
        {
          type: "line",
          name: "flux",
          data: flux,
          showSymbol: false,
          symbol: "none",
          silent: true,
          clip: true,
          z: 3,
          lineStyle: { color: "#000000", width: 4.6, join: "round" },
        },
      ],
    });
    return () => chart.dispose();
  }, []);
  return (
    <div
      ref={ref}
      style={{ position: "fixed", left: 0, top: 0, width: 3000, height: 900, background: "#fff" }}
    />
  );
}
